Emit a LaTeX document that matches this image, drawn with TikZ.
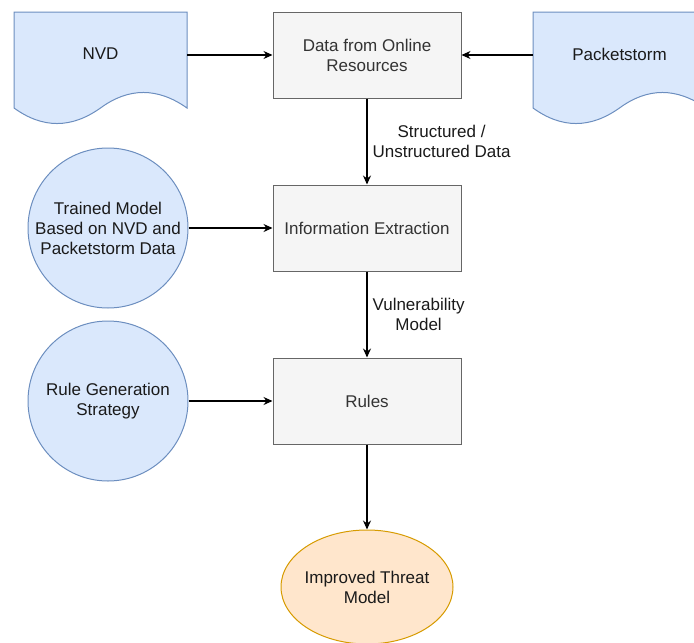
\documentclass[tikz,border=0pt]{standalone}
\usepackage{fontspec}
\setmainfont{Liberation Sans}
\usetikzlibrary{shapes.geometric,arrows.meta}
\definecolor{blueF}{HTML}{DAE8FC}
\definecolor{blueD}{HTML}{6C8EBF}
\definecolor{grayF}{HTML}{F5F5F5}
\definecolor{grayD}{HTML}{666666}
\definecolor{grayT}{HTML}{333333}
\definecolor{orangeF}{HTML}{FFE6CC}
\definecolor{orangeD}{HTML}{D79B00}
\definecolor{ink}{HTML}{1A1A1A}

\begin{document}
\begin{tikzpicture}[x=1pt,y=-1pt,font=\fontsize{17}{20}\selectfont,
proc/.style={shape=rectangle,draw=grayD,fill=grayF,text=grayT,minimum width=188pt,minimum height=86pt,align=center,line width=1pt},
src/.style={shape=circle,draw=blueD,fill=blueF,text=ink,minimum size=160pt,inner sep=0pt,align=center,line width=1pt},
res/.style={shape=ellipse,draw=orangeD,fill=orangeF,text=ink,minimum width=172pt,minimum height=114pt,inner xsep=-3pt,inner ysep=0pt,align=center,line width=1pt},
doc/.style={draw=blueD,fill=blueF,line width=1pt},
doctext/.style={shape=rectangle,text=ink,minimum width=173pt,minimum height=84pt},
link/.style={-{Stealth[length=9pt,width=8pt]},line width=1.2pt},
lbl/.style={right,align=center,text=ink,inner xsep=5pt}]
\clip (0,0) rectangle (694,643);

% document shapes
\foreach \dx in {0,519}
  \draw[doc,shift={(\dx,0)}] (14,12) -- (187,12) -- (187,108) .. controls (157.7,87.3) and (128.7,87.3) .. (100.5,108) .. controls (71.3,128.7) and (42.7,128.7) .. (14,108) -- cycle;
\node[doctext] (nvd) at (100.5,54) {NVD};
\node[doctext] (pks) at (619.5,54) {Packetstorm};

\node[proc] (data) at (367,55) {Data from Online\\Resources};
\node[proc] (info) at (367,228) {Information Extraction};
\node[proc] (rules) at (367,401) {Rules};

\node[src] (trained) at (108,228) {Trained Model\\Based on NVD and\\Packetstorm Data};
\node[src] (rulegen) at (108,401) {Rule Generation\\Strategy};

\node[res] (improved) at (367,587) {Improved Threat\\Model};

\draw[link] (nvd.east |- data.west) -- (data.west);
\draw[link] (pks.west |- data.east) -- (data.east);
\draw[link] (data) -- node[lbl] {Structured /\\Unstructured Data} (info);
\draw[link] (trained) -- (info);
\draw[link] (info) -- node[lbl] {Vulnerability\\Model} (rules);
\draw[link] (rulegen) -- (rules);
\draw[link] (rules) -- (improved);
\end{tikzpicture}
\end{document}
